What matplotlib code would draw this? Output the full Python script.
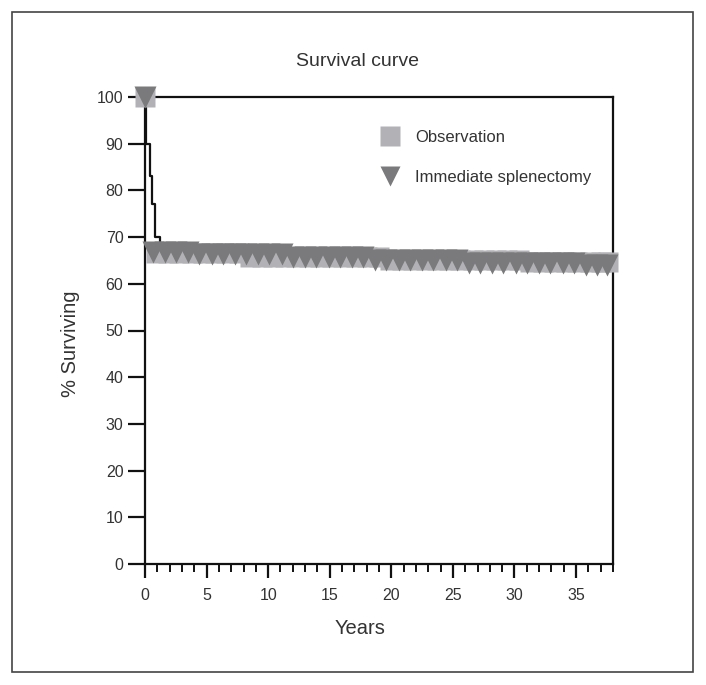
import matplotlib.pyplot as plt
import numpy as np
from matplotlib.lines import Line2D
from matplotlib.patches import Rectangle

plt.rcParams['font.family'] = ['Liberation Sans', 'DejaVu Sans']

# early Kaplan-Meier drop (black step line)
km_years = [0, 0.1, 0.4, 0.6, 0.85, 1.2]
km_surv = [100, 90, 83, 77, 70, 69]

# Observation (grey squares)
obs_years = [0, 0.9, 1.9, 2.8, 3.8, 4.7, 5.7, 6.6, 7.6, 8.5, 9.5, 10.4, 11.4, 12.3,
             13.3, 14.2, 15.2, 16.1, 17.1, 18.0, 19.0, 19.9, 20.9, 21.8, 22.8,
             23.7, 24.7, 25.6, 26.6, 27.5, 28.5, 29.4, 30.4, 31.3, 32.3, 33.2,
             34.2, 35.1, 36.1, 37.0, 37.6]
obs_surv = [100, 66.7, 66.7, 66.7, 66.7, 66.7, 66.7, 66.7, 66.7, 65.8, 65.8, 65.8,
            65.8, 65.8, 65.8, 65.8, 65.8, 65.8, 65.8, 65.8, 65.8, 65.0, 65.0, 65.0,
            65.0, 65.0, 65.0, 65.0, 65.0, 65.0, 65.0, 65.0, 65.0, 64.6, 64.6, 64.6,
            64.6, 64.6, 64.6, 64.6, 64.6]

# Immediate splenectomy (dark triangles)
spl_years = [0, 0.65, 1.6, 2.5, 3.5, 4.4, 5.4, 6.3, 7.3, 8.2, 9.2, 10.1, 11.1, 12.0,
             13.0, 13.9, 14.9, 15.8, 16.8, 17.7, 18.7, 19.6, 20.6, 21.5, 22.5,
             23.4, 24.4, 25.3, 26.3, 27.2, 28.2, 29.1, 30.1, 31.0, 32.0, 32.9,
             33.9, 34.8, 35.8, 36.7, 37.5]
spl_surv = [100, 66.8, 66.8, 66.8, 66.8, 66.3, 66.3, 66.3, 66.3, 66.3, 66.3, 66.3,
            66.3, 65.8, 65.8, 65.8, 65.8, 65.8, 65.8, 65.8, 65.1, 65.1, 65.1, 65.1,
            65.1, 65.1, 65.1, 65.1, 64.5, 64.5, 64.5, 64.5, 64.5, 64.5, 64.5, 64.5,
            64.5, 64.5, 64.0, 64.0, 64.0]

light = '#b2b2b6'
dark = '#7a7a7c'
txt = '#333333'

fig = plt.figure(figsize=(7.06, 6.85), dpi=100)
ax = fig.add_axes([145/706, 1-564/685, 468/706, 467/685])

ax.step(km_years, km_surv, where='post', color='#111111', lw=1.6, zorder=2)
ax.plot(obs_years, obs_surv, ls='none', marker='s', ms=15, color=light,
        mec='none', clip_on=False, zorder=3)
ax.plot(spl_years, spl_surv, ls='none', marker='v', ms=16, color=dark,
        mec='none', clip_on=False, zorder=4)

ax.set_xlim(0, 38)
ax.set_ylim(0, 100)
for s in ax.spines.values():
    s.set_linewidth(1.6)
    s.set_color('#111111')

ax.set_yticks(np.arange(0, 101, 10))
ax.set_xticks(np.arange(0, 36, 5))
ax.set_xticks(np.arange(0, 39, 1), minor=True)
ax.tick_params(axis='y', length=12, width=1.6, pad=3.5, labelsize=11.5,
               labelcolor=txt, color='#111111')
ax.tick_params(axis='x', which='major', length=10, width=1.6, pad=7,
               labelsize=11.5, labelcolor=txt, color='#111111')
ax.tick_params(axis='x', which='minor', length=6, width=1.4, color='#111111')

handles = [Line2D([], [], ls='none', marker='s', ms=15, color=light, mec='none'),
           Line2D([], [], ls='none', marker='v', ms=15, color=dark, mec='none')]
ax.legend(handles, ['Observation', 'Immediate splenectomy'], loc='upper left',
          bbox_to_anchor=(0.48, 0.948), frameon=False, fontsize=12,
          handlelength=1.4, handletextpad=0.85, labelspacing=1.5, borderpad=0,
          labelcolor=txt)

fig.text(358/706, 1-62/685, 'Survival curve', ha='center', va='center',
         fontsize=14, color=txt)
fig.text(70/706, 1-344/685, '% Surviving', ha='center', va='center',
         rotation=90, fontsize=14.5, color=txt)
fig.text(360/706, 1-628/685, 'Years', ha='center', va='center',
         fontsize=14.5, color=txt)

fig.patches.append(Rectangle((12/706, 1-672/685), 681/706, 660/685,
                             transform=fig.transFigure, fill=False,
                             edgecolor='#444444', lw=1.2))

plt.savefig('out.png', dpi=100)
